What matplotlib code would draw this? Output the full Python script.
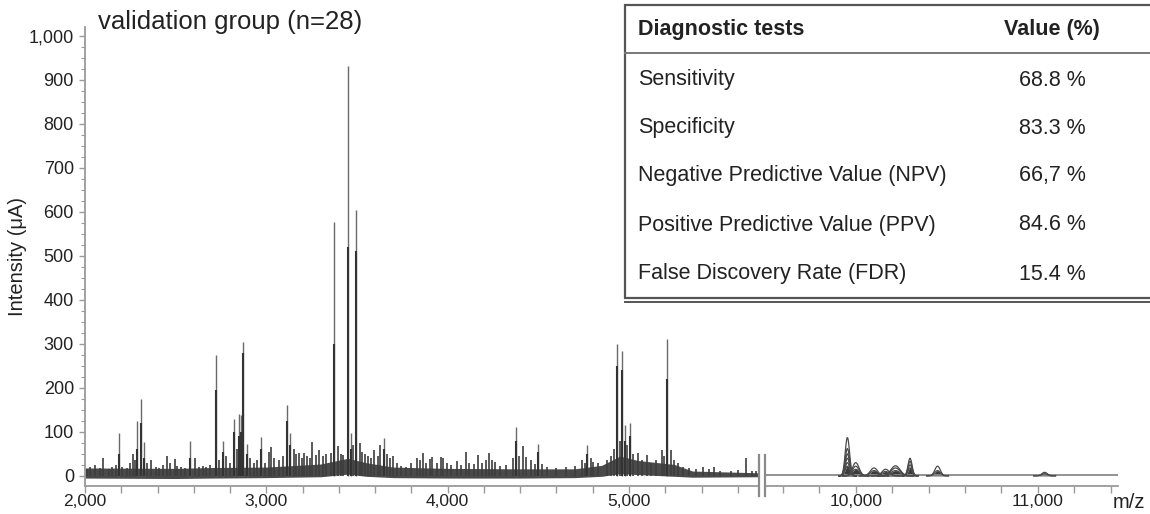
import matplotlib
matplotlib.use('Agg')
import matplotlib.pyplot as plt
import numpy as np
from matplotlib.patches import Rectangle
from matplotlib.lines import Line2D
from matplotlib.ticker import FuncFormatter, MultipleLocator, FixedLocator

plt.rcParams['font.family'] = ['Liberation Sans', 'DejaVu Sans']

# ---- data (m/z, intensity in uA) ----
# tall peaks: max height (lighter overlay) and core height (dark bundle)
major_mz = [2190, 2289, 2308, 2323, 2581, 2723, 2762, 2824, 2852, 2861, 2872, 2894,
            2968, 3112, 3131, 3374, 3448, 3466, 3494, 3651, 4378, 4500, 4770,
            4935, 4963, 4978, 5005, 5208]
major_max = [97, 125, 175, 78, 80, 275, 80, 130, 140, 138, 305, 72,
             88, 162, 98, 578, 932, 98, 605, 85, 112, 72, 70,
             300, 283, 116, 120, 310]
major_core = [50, 60, 120, 40, 40, 195, 55, 100, 90, 100, 280, 50,
              60, 125, 70, 300, 520, 60, 510, 60, 80, 55, 50,
              250, 240, 80, 90, 220]

# small peaks on the noisy baseline
minor_mz = [2010, 2030, 2055, 2080, 2101, 2130, 2150, 2170, 2205, 2230, 2250, 2264, 2275,
            2340, 2365, 2390, 2410, 2430, 2451, 2470, 2494, 2510, 2530, 2550, 2609, 2630,
            2650, 2670, 2690, 2740, 2780, 2800, 2840, 2910, 2930, 2950, 2990, 3014, 3025,
            3045, 3070, 3090, 3150, 3165, 3180, 3195, 3208, 3225, 3240, 3254, 3275, 3290,
            3310, 3330, 3356, 3398, 3410, 3425, 3480, 3518, 3530, 3545, 3560, 3580, 3595,
            3615, 3627, 3665, 3680, 3700, 3720, 3745, 3770, 3800, 3830, 3845, 3863, 3880,
            3900, 3915, 3940, 3961, 3975, 3995, 4020, 4050, 4075, 4099, 4120, 4145, 4169,
            4190, 4210, 4228, 4245, 4262, 4290, 4320, 4358, 4395, 4413, 4430, 4460, 4480,
            4520, 4550, 4600, 4650, 4700, 4739, 4755, 4790, 4803, 4830, 4877, 4900, 4920,
            4950, 4990, 5020, 5048, 5070, 5097, 5120, 5150, 5180, 5195, 5230, 5250, 5270,
            5300, 5330, 5370, 5409, 5440, 5468, 5500, 5560, 5600, 5645, 5680, 5700]
minor_h = [15, 20, 25, 18, 40, 15, 20, 25, 20, 18, 30, 50, 35,
           30, 36, 20, 18, 25, 45, 30, 38, 22, 20, 18, 40, 20,
           22, 20, 25, 35, 45, 30, 60, 40, 30, 35, 30, 55, 65,
           40, 35, 45, 60, 50, 52, 40, 52, 45, 40, 78, 48, 58,
           45, 50, 52, 67, 50, 48, 70, 75, 55, 50, 45, 40, 58,
           45, 70, 50, 40, 45, 30, 22, 20, 30, 41, 35, 52, 30,
           38, 44, 30, 44, 40, 30, 25, 33, 25, 55, 30, 28, 48,
           30, 35, 52, 35, 32, 22, 25, 40, 45, 67, 44, 35, 28,
           28, 20, 18, 20, 22, 35, 30, 40, 32, 30, 36, 45, 60,
           80, 70, 50, 52, 35, 48, 30, 36, 59, 45, 59, 35, 30,
           20, 18, 15, 21, 15, 21, 12, 12, 14, 40, 12, 10]

# dense band of overlaid baselines
base_mz = [2000, 2500, 2700, 3000, 3300, 3450, 3550, 3700, 4000, 4400, 4700, 4850,
           4950, 5050, 5250, 5350, 5717]
base_lo = [-5, -6, -5, -4, -2, 4, -1, -4, -5, -5, -4, -1, 5, 3, -1, -3, -2]
base_hi = [18, 17, 19, 20, 27, 40, 30, 20, 17, 16, 16, 24, 45, 35, 26, 11, 7]

# high mass range: broad peaks, several overlaid spectra
seg2_mz = [9954, 10000, 10100, 10164, 10218, 10298, 10449, 11037]
seg2_heights = [[87, 62, 50, 40, 30, 22], [30, 22, 15], [18, 12], [15, 10],
                [23, 18, 12], [40, 33, 25, 18], [22, 12], [8, 5]]
seg2_width = [12, 18, 20, 20, 25, 11, 15, 15]
seg2_base_mz = [9507, 11440]
seg2_base = [1, 1]

# table
test_names = ['Sensitivity', 'Specificity', 'Negative Predictive Value (NPV)',
              'Positive Predictive Value (PPV)', 'False Discovery Rate (FDR)']
test_values = ['68.8 %', '83.3 %', '66,7 %', '84.6 %', '15.4 %']

W, H = 1150, 514
fig = plt.figure(figsize=(11.5, 5.14), dpi=100)
bottom = 1 - 486 / H
height = (486 - 27) / H
ax1 = fig.add_axes([85 / W, bottom, 674 / W, height])
ax2 = fig.add_axes([766 / W, bottom, 352 / W, height])

line_c = '#3d3d3d'
ax1.fill_between(base_mz, base_lo, base_hi, color='#4a4a4a', lw=0)
ax1.vlines(minor_mz, 0, minor_h, color=line_c, lw=1.2)
ax1.vlines(major_mz, 0, major_max, color='#6a6a6a', lw=1.0)
ax1.vlines(major_mz, 0, major_core, color='#333333', lw=1.5)

ax2.plot(seg2_base_mz, seg2_base, color='#8a8a8a', lw=1.3)
for c, hs, w in zip(seg2_mz, seg2_heights, seg2_width):
    x = np.linspace(c - 4 * w, c + 4 * w, 100)
    shape = np.exp(-0.5 * ((x - c) / w) ** 2)
    for h in hs:
        ax2.plot(x, h * shape, color='#4a4a4a', lw=0.9)
    ax2.fill_between(x, 0, min(hs) * shape, color='#3a3a3a', lw=0)

fmt = FuncFormatter(lambda v, p: f'{int(v):,}')
spine_c = '#9a9a9a'
for ax in (ax1, ax2):
    ax.set_ylim(-23, 1020)
    for s in ('top', 'right'):
        ax.spines[s].set_visible(False)
    ax.spines['bottom'].set_color(spine_c)
    ax.spines['bottom'].set_linewidth(1.3)
    ax.xaxis.set_major_formatter(fmt)
    ax.tick_params(axis='x', which='both', direction='out', length=5, width=1,
                   color=spine_c, labelsize=12.5, labelcolor='#222222', pad=1)

ax1.set_xlim(2000, 5717)
ax1.xaxis.set_major_locator(FixedLocator([2000, 3000, 4000, 5000]))
ax1.xaxis.set_minor_locator(MultipleLocator(200))
ax1.spines['left'].set_color(spine_c)
ax1.spines['left'].set_linewidth(1.3)
ax1.yaxis.set_major_locator(MultipleLocator(100))
ax1.yaxis.set_minor_locator(MultipleLocator(25))
ax1.yaxis.set_major_formatter(fmt)
ax1.tick_params(axis='y', which='major', direction='out', length=4, width=1,
                color=spine_c, labelsize=13, labelcolor='#222222', pad=4)
ax1.tick_params(axis='y', which='minor', direction='out', length=3, width=0.8,
                color=spine_c)
ax1.set_ylabel('Intensity (μA)', fontsize=14.5, color='#222222')
ax1.yaxis.set_label_coords(-0.086, 0.5)

ax2.set_xlim(9507, 11440)
ax2.xaxis.set_major_locator(FixedLocator([10000, 11000]))
ax2.xaxis.set_minor_locator(FixedLocator(np.arange(9600, 11401, 200)))
ax2.spines['left'].set_visible(False)
ax2.set_yticks([])

# axis break marks
for xp in (759, 765):
    fig.add_artist(Line2D([xp / W, xp / W], [1 - 496 / H, 1 - 455 / H],
                          color='#8a8a8a', lw=1.6))

fig.text(1129 / W, 1 - 502 / H, 'm/z', fontsize=14.5, color='#222222',
         ha='center', va='center')
fig.text(98 / W, 1 - 22 / H, 'validation group (n=28)', fontsize=18.5,
         color='#222222', ha='left', va='center')

# table box
x0, y_top, y_bot = 625 / W, 1 - 5 / H, 1 - 298 / H
fig.add_artist(Rectangle((x0, y_bot), 1.2 - x0, y_top - y_bot, transform=fig.transFigure,
                         facecolor='white', edgecolor='#555555', lw=1.6, zorder=5))
fig.add_artist(Line2D([x0, 1.0], [1 - 302 / H, 1 - 302 / H], color='#555555', lw=1.4, zorder=5))
fig.add_artist(Line2D([x0, 1.0], [1 - 53 / H, 1 - 53 / H], color='#777777', lw=1.4, zorder=5))
fig.text(638 / W, 1 - 30 / H, 'Diagnostic tests', fontsize=15.5, fontweight='bold',
         color='#222222', va='center', zorder=6)
fig.text(1052 / W, 1 - 30 / H, 'Value (%)', fontsize=15.5, fontweight='bold',
         color='#222222', va='center', ha='center', zorder=6)
row_y = [80, 128, 176, 225, 274]
for name, val, yp in zip(test_names, test_values, row_y):
    fig.text(638 / W, 1 - yp / H, name, fontsize=15.5, color='#222222', va='center', zorder=6)
    fig.text(1052 / W, 1 - yp / H, val, fontsize=15.5, color='#222222', va='center',
             ha='center', zorder=6)

fig.savefig('out.png', dpi=100)
